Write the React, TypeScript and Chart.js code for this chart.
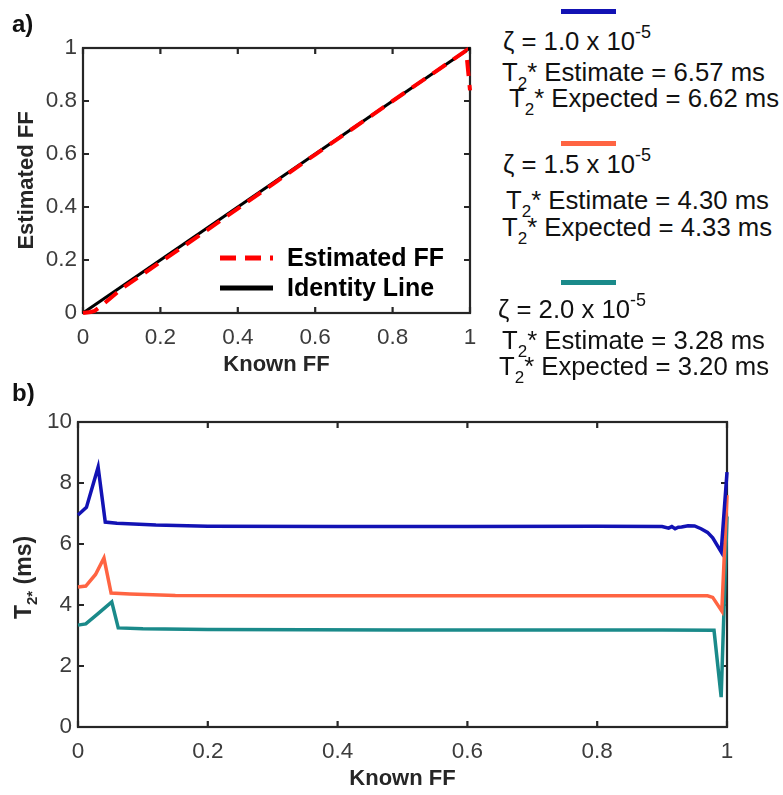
import React, { useEffect, useRef } from "react";
import { Chart, registerables } from "chart.js";

Chart.register(...registerables);

const FONT = "'Liberation Sans', Arial, Helvetica, sans-serif";
const AXIS_COLOR = "#262626";
const TICK_TEXT = "#3c3c3c";
const TITLE_COLOR = "#262626";

// ---------- Panel a data ----------
const KNOWN_FF_A = [0, 0.01, 0.02, 0.03, 0.05, 0.1, 0.2, 0.3, 0.4, 0.5, 0.6, 0.7, 0.8, 0.9, 0.99, 1.0];
const ESTIMATED_FF = [0, 0.002, 0.004, 0.008, 0.03, 0.092, 0.192, 0.292, 0.394, 0.496, 0.598, 0.699, 0.8, 0.9, 0.99, 0.84];
const IDENTITY_X = [0, 1];
const IDENTITY_Y = [0, 1];
const TICKS_A_X = [0, 0.2, 0.4, 0.6, 0.8, 1];
const TICKS_A_Y = [0, 0.2, 0.4, 0.6, 0.8, 1];
const LEGEND_A_LABELS = ["Estimated FF", "Identity Line"];
const X_TITLE = "Known FF";
const Y_TITLE_A = "Estimated FF";

// ---------- Panel b data ----------
const BLUE_X = [0, 0.013, 0.031, 0.042, 0.06, 0.12, 0.2, 0.4, 0.6, 0.8, 0.9, 0.91, 0.915, 0.92, 0.925, 0.93, 0.94, 0.95, 0.96, 0.97, 0.978, 0.991, 1.0];
const BLUE_Y = [6.95, 7.2, 8.52, 6.72, 6.68, 6.62, 6.58, 6.57, 6.57, 6.58, 6.57, 6.52, 6.57, 6.5, 6.55, 6.56, 6.6, 6.59, 6.5, 6.38, 6.2, 5.74, 8.36];
const ORANGE_X = [0, 0.012, 0.027, 0.04, 0.051, 0.08, 0.15, 0.3, 0.6, 0.9, 0.97, 0.978, 0.992, 1.0];
const ORANGE_Y = [4.59, 4.62, 5.0, 5.54, 4.39, 4.36, 4.31, 4.3, 4.3, 4.3, 4.3, 4.25, 3.8, 7.6];
const TEAL_X = [0, 0.012, 0.03, 0.052, 0.062, 0.1, 0.2, 0.5, 0.9, 0.98, 0.991, 1.0];
const TEAL_Y = [3.34, 3.38, 3.7, 4.1, 3.25, 3.22, 3.2, 3.18, 3.18, 3.17, 0.98, 6.9];
const TICKS_B_X = [0, 0.2, 0.4, 0.6, 0.8, 1];
const TICKS_B_Y = [0, 2, 4, 6, 8, 10];
const SERIES_COLORS = ["#1212b4", "#ff6442", "#1a8a8a"];

// ---------- Right legend text ----------
const ZETA_VALUES = ["1.0", "1.5", "2.0"];
const T2_ESTIMATES = ["6.57", "4.30", "3.28"];
const T2_EXPECTED = ["6.62", "4.33", "3.20"];

const boxPlugin = {
  id: "matlabBox",
  beforeDatasetsDraw(chart: any) {
    const { ctx, chartArea, scales } = chart;
    const { left, right, top, bottom } = chartArea;
    const x = scales.x;
    const y = scales.y;
    const len = 6;
    ctx.save();
    ctx.strokeStyle = AXIS_COLOR;
    ctx.lineWidth = 2.2;
    ctx.beginPath();
    x.ticks.forEach((t: any) => {
      const px = x.getPixelForValue(t.value);
      ctx.moveTo(px, bottom);
      ctx.lineTo(px, bottom - len);
      ctx.moveTo(px, top);
      ctx.lineTo(px, top + len);
    });
    y.ticks.forEach((t: any) => {
      const py = y.getPixelForValue(t.value);
      ctx.moveTo(left, py);
      ctx.lineTo(left + len, py);
      ctx.moveTo(right, py);
      ctx.lineTo(right - len, py);
    });
    ctx.stroke();
    ctx.strokeRect(left, top, right - left, bottom - top);
    ctx.restore();
  },
};

const titlesA = {
  id: "titlesA",
  afterDraw(chart: any) {
    const { ctx, chartArea } = chart;
    ctx.save();
    ctx.fillStyle = TITLE_COLOR;
    ctx.font = `bold 22px ${FONT}`;
    ctx.textAlign = "center";
    ctx.textBaseline = "middle";
    ctx.fillText(X_TITLE, (chartArea.left + chartArea.right) / 2, chartArea.bottom + 52);
    ctx.translate(27, (chartArea.top + chartArea.bottom) / 2);
    ctx.rotate(-Math.PI / 2);
    ctx.fillText(Y_TITLE_A, 0, 0);
    ctx.restore();
  },
};

const legendA = {
  id: "legendA",
  afterDatasetsDraw(chart: any) {
    const ctx = chart.ctx;
    const rows = [258, 288];
    ctx.save();
    chart.data.datasets.forEach((ds: any, i: number) => {
      const y = rows[i];
      ctx.beginPath();
      ctx.setLineDash(ds.borderDash || []);
      ctx.strokeStyle = ds.borderColor;
      ctx.lineWidth = 5;
      ctx.moveTo(220, y);
      ctx.lineTo(273, y);
      ctx.stroke();
      ctx.setLineDash([]);
      ctx.fillStyle = "#000";
      ctx.font = `bold 25px ${FONT}`;
      ctx.textAlign = "left";
      ctx.textBaseline = "middle";
      ctx.fillText(ds.label, 287, y + 1);
    });
    ctx.restore();
  },
};

const titlesB = {
  id: "titlesB",
  afterDraw(chart: any) {
    const { ctx, chartArea } = chart;
    ctx.save();
    ctx.fillStyle = TITLE_COLOR;
    ctx.font = `bold 22px ${FONT}`;
    ctx.textAlign = "center";
    ctx.textBaseline = "middle";
    ctx.fillText(X_TITLE, (chartArea.left + chartArea.right) / 2, chartArea.bottom + 52);
    // rotated y title: T_{2*} (ms)
    const main = `bold 23px ${FONT}`;
    const sub = `bold 15px ${FONT}`;
    ctx.font = main;
    const wT = ctx.measureText("T").width;
    const wRest = ctx.measureText(" (ms)").width;
    ctx.font = sub;
    const wSub = ctx.measureText("2*").width;
    const total = wT + wSub + wRest;
    ctx.translate(23, (chartArea.top + chartArea.bottom) / 2 + 3);
    ctx.rotate(-Math.PI / 2);
    ctx.textAlign = "left";
    ctx.textBaseline = "alphabetic";
    let cx = -total / 2;
    ctx.font = main;
    ctx.fillText("T", cx, 8);
    cx += wT;
    ctx.font = sub;
    ctx.fillText("2*", cx, 14);
    cx += wSub;
    ctx.font = main;
    ctx.fillText(" (ms)", cx, 8);
    ctx.restore();
  },
};

function makeScale(min: number, max: number, ticks: number[], size: number, isX: boolean, padding: number) {
  return {
    type: "linear",
    min,
    max,
    afterBuildTicks: (s: any) => {
      s.ticks = ticks.map((v) => ({ value: v }));
    },
    afterFit: (s: any) => {
      if (isX) s.height = size;
      else s.width = size;
    },
    grid: { display: false, drawTicks: false },
    border: { display: false },
    ticks: {
      font: { family: FONT, size: 22.5 },
      color: TICK_TEXT,
      padding,
      maxRotation: 0,
      autoSkip: false,
      callback: (v: any) => String(Number(v)),
    },
  };
}

function PanelA() {
  const ref = useRef<HTMLCanvasElement>(null);
  useEffect(() => {
    const chart = new Chart(ref.current as HTMLCanvasElement, {
      type: "line",
      data: {
        datasets: [
          {
            label: LEGEND_A_LABELS[0],
            data: KNOWN_FF_A.map((x, i) => ({ x, y: ESTIMATED_FF[i] })),
            borderColor: "#ff0000",
            borderWidth: 4,
            borderDash: [16, 9],
            pointRadius: 0,
            tension: 0,
            clip: 4,
          },
          {
            label: LEGEND_A_LABELS[1],
            data: IDENTITY_X.map((x, i) => ({ x, y: IDENTITY_Y[i] })),
            borderColor: "#000000",
            borderWidth: 3,
            pointRadius: 0,
            tension: 0,
            clip: 4,
          },
        ],
      } as any,
      options: {
        responsive: false,
        animation: false,
        layout: { padding: { top: 48, right: 20, left: 0, bottom: 0 } },
        plugins: { legend: { display: false }, tooltip: { enabled: false } },
        scales: {
          x: makeScale(0, 1, TICKS_A_X, 77, true, 11),
          y: makeScale(0, 1, TICKS_A_Y, 83, false, 6),
        } as any,
      },
      plugins: [boxPlugin, legendA, titlesA],
    });
    return () => chart.destroy();
  }, []);
  return (
    <canvas
      ref={ref}
      width={490}
      height={390}
      style={{ position: "absolute", left: 0, top: 0, width: 490, height: 390 }}
    />
  );
}

function PanelB() {
  const ref = useRef<HTMLCanvasElement>(null);
  useEffect(() => {
    const series = [
      [BLUE_X, BLUE_Y],
      [ORANGE_X, ORANGE_Y],
      [TEAL_X, TEAL_Y],
    ];
    const chart = new Chart(ref.current as HTMLCanvasElement, {
      type: "line",
      data: {
        datasets: series.map(([xs, ys], k) => ({
          label: `zeta ${ZETA_VALUES[k]}`,
          data: xs.map((x, i) => ({ x, y: ys[i] })),
          borderColor: SERIES_COLORS[k],
          borderWidth: 3.5,
          pointRadius: 0,
          tension: 0,
          clip: 4,
        })),
      } as any,
      options: {
        responsive: false,
        animation: false,
        layout: { padding: { top: 42, right: 56, left: 0, bottom: 0 } },
        plugins: { legend: { display: false }, tooltip: { enabled: false } },
        scales: {
          x: makeScale(0, 1, TICKS_B_X, 68, true, 11),
          y: makeScale(0, 10, TICKS_B_Y, 78, false, 6),
        } as any,
      },
      plugins: [boxPlugin, titlesB],
    });
    return () => chart.destroy();
  }, []);
  return (
    <canvas
      ref={ref}
      width={783}
      height={415}
      style={{ position: "absolute", left: 0, top: 380, width: 783, height: 415 }}
    />
  );
}

const TEXT_SIZE = 25.7;

function Line({ left, center, children }: { left: number; center: number; children: any }) {
  return (
    <div
      style={{
        position: "absolute",
        left,
        top: center - 12.6,
        fontFamily: FONT,
        fontSize: TEXT_SIZE,
        lineHeight: `${TEXT_SIZE}px`,
        color: "#111",
        whiteSpace: "nowrap",
      }}
    >
      {children}
    </div>
  );
}

const subStyle: any = { fontSize: 17, lineHeight: 0, verticalAlign: "-8px" };
const supStyle: any = { fontSize: 18, lineHeight: 0, verticalAlign: "12px" };

function RightLegend() {
  const bars = [9, 141, 280];
  const zetaPos = [
    [503, 42],
    [503, 165],
    [498, 310],
  ];
  const estPos = [
    [502, 73],
    [506, 201],
    [502, 341],
  ];
  const expPos = [
    [509, 99],
    [502, 228],
    [499, 367],
  ];
  return (
    <>
      {ZETA_VALUES.map((z, i) => (
        <React.Fragment key={i}>
          <div
            style={{
              position: "absolute",
              left: 561,
              top: bars[i],
              width: 55,
              height: 5,
              background: SERIES_COLORS[i],
            }}
          />
          <Line left={zetaPos[i][0]} center={zetaPos[i][1]}>
            ζ = {z} x 10<span style={supStyle}>-5</span>
          </Line>
          <Line left={estPos[i][0]} center={estPos[i][1]}>
            T<span style={subStyle}>2</span>* Estimate = {T2_ESTIMATES[i]} ms
          </Line>
          <Line left={expPos[i][0]} center={expPos[i][1]}>
            T<span style={subStyle}>2</span>* Expected = {T2_EXPECTED[i]} ms
          </Line>
        </React.Fragment>
      ))}
    </>
  );
}

function PanelLabel({ text, center }: { text: string; center: number }) {
  return (
    <div
      style={{
        position: "absolute",
        left: 12,
        top: center - 12,
        fontFamily: FONT,
        fontWeight: "bold",
        fontSize: 24,
        lineHeight: "24px",
        color: "#111",
        zIndex: 2,
      }}
    >
      {text}
    </div>
  );
}

export default function App() {
  return (
    <div
      style={{
        position: "absolute",
        left: 0,
        top: 0,
        width: 783,
        height: 795,
        background: "#ffffff",
        overflow: "hidden",
      }}
    >
      <PanelA />
      <PanelB />
      <RightLegend />
      <PanelLabel text="a)" center={24} />
      <PanelLabel text="b)" center={393} />
    </div>
  );
}
